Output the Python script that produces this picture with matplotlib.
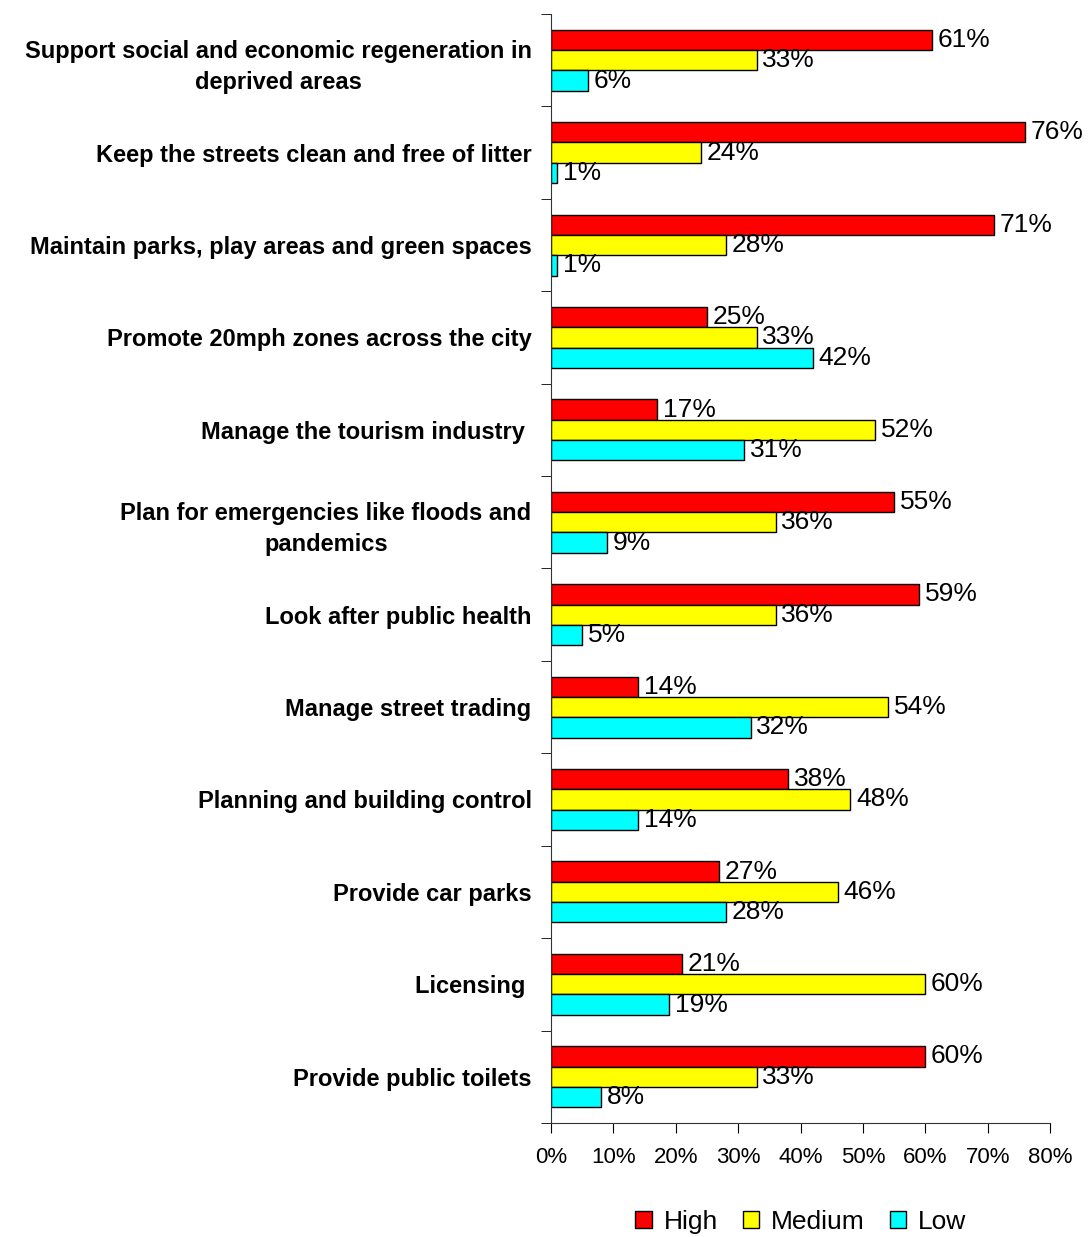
import numpy as np
import matplotlib
matplotlib.use('Agg')
import matplotlib.pyplot as plt

plt.rcParams['font.family'] = ['Liberation Sans', 'DejaVu Sans']

categories = [
    'Support social and economic regeneration in\ndeprived areas',
    'Keep the streets clean and free of litter',
    'Maintain parks, play areas and green spaces',
    'Promote 20mph zones across the city',
    'Manage the tourism industry ',
    'Plan for emergencies like floods and\npandemics',
    'Look after public health',
    'Manage street trading',
    'Planning and building control',
    'Provide car parks',
    'Licensing ',
    'Provide public toilets',
]
high = [61, 76, 71, 25, 17, 55, 59, 14, 38, 27, 21, 60]
medium = [33, 24, 28, 33, 52, 36, 36, 54, 48, 46, 60, 33]
low = [6, 1, 1, 42, 31, 9, 5, 32, 14, 28, 19, 8]
series_names = ['High', 'Medium', 'Low']
colors = ['#FF0000', '#FFFF00', '#00FFFF']
xticks = [0, 10, 20, 30, 40, 50, 60, 70, 80]

fig = plt.figure(figsize=(10.91, 12.37), dpi=100)
fig.set_facecolor('white')
ax = fig.add_axes([0.505, 0.0922, 0.4575, 0.8965])

n = len(categories)
ypos = np.arange(n)
bh = 0.22
series = [high, medium, low]
for k, (vals, col, name) in enumerate(zip(series, colors, series_names)):
    yy = ypos + (k - 1) * bh
    ax.barh(yy, vals, height=bh, color=col, edgecolor='black', linewidth=1.0, label=name)
    for y, v in zip(yy, vals):
        ax.text(v + 0.9, y, '%d%%' % v, ha='left', va='center', fontsize=19)

ax.set_ylim(n - 0.5, -0.5)
ax.set_xlim(0, 80)
ax.set_xticks(xticks)
ax.set_xticklabels(['%d%%' % t for t in xticks], fontsize=16)
ax.set_yticks(ypos)
ax.set_yticklabels(categories, fontsize=17, fontweight='bold', ha='right',
                   multialignment='center', linespacing=1.45)
ax.tick_params(axis='y', length=0, pad=14)
ax.set_yticks(np.arange(n + 1) - 0.5, minor=True)
ax.tick_params(axis='y', which='minor', length=7, direction='out')
ax.tick_params(axis='x', length=7, direction='out', pad=10)
for s in ['top', 'right']:
    ax.spines[s].set_visible(False)
ax.spines['left'].set_color('#333333')
ax.spines['bottom'].set_color('#333333')

fig.legend(loc='center', bbox_to_anchor=(0.734, 0.012), ncol=3, frameon=False,
           fontsize=19, handlelength=0.62, handleheight=0.62, handletextpad=0.45,
           columnspacing=0.95)

fig.savefig('out.png', dpi=100)
